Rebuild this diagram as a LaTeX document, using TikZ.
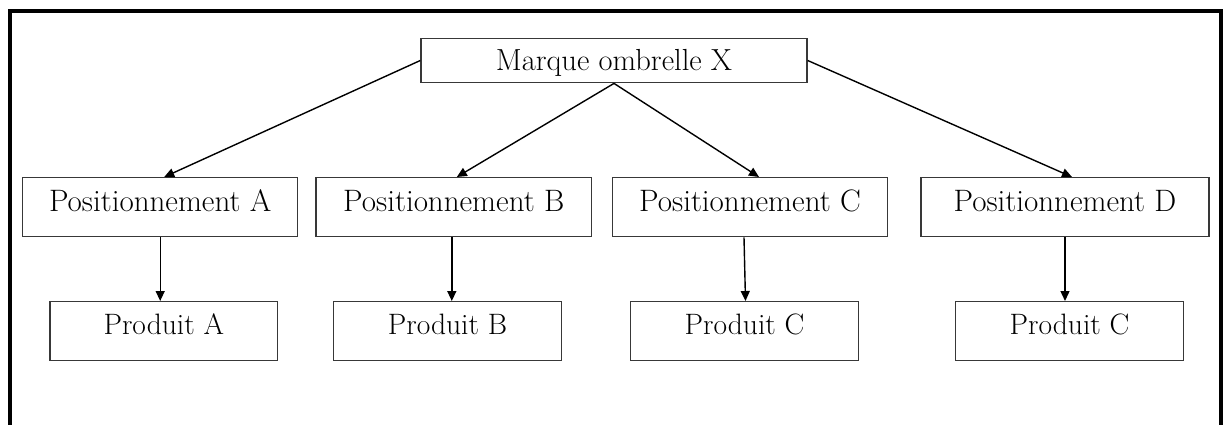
\documentclass[tikz,border=0pt]{standalone}
\usepackage{fontspec}
\usetikzlibrary{arrows.meta,calc}
\begin{document}
\begin{tikzpicture}[x=1pt,y=-1pt,
  box/.style={draw=black!78,line width=1.4pt,inner sep=0pt,minimum height=59pt},
  topbox/.style={box,minimum height=44.4pt,font=\fontsize{30.5}{36}\selectfont,text height=21pt,text depth=0pt},
  posbox/.style={box,font=\fontsize{31}{37}\selectfont,text height=12pt,text depth=3pt},
  prodbox/.style={box,font=\fontsize{29.5}{35}\selectfont,text height=10pt,text depth=3.8pt},
  link/.style={line width=1.4pt,-{Triangle[length=10pt,width=9pt]}},
  frame/.style={line width=4pt}]

\useasboundingbox (0,0) rectangle (1224,425);

% open frame around the chart
\draw[frame] (10,425) -- (10,11) -- (1221.3,11) -- (1221.3,425);

% umbrella brand
\node[topbox,minimum width=386pt] (top) at (614,60.5) {Marque ombrelle X};

% positionings
\node[posbox,minimum width=275pt]   (posA) at (160.2,207.2) {Positionnement A};
\node[posbox,minimum width=275.7pt] (posB) at (453.8,207.2) {Positionnement B};
\node[posbox,minimum width=274.6pt] (posC) at (750,207.2)   {Positionnement C};
\node[posbox,minimum width=288pt]   (posD) at (1065,207.2)  {Positionnement D};

% products
\node[prodbox,minimum width=227.7pt] (prodA) at (163.8,331.2)  {Produit A};
\node[prodbox,minimum width=228.4pt] (prodB) at (447.5,331.2)  {Produit B};
\node[prodbox,minimum width=227.6pt] (prodC) at (744.5,331.2)  {Produit C};
\node[prodbox,minimum width=227.6pt] (prodD) at (1069.5,331.2) {Produit C};

% brand to positionings
\draw[link] (top.west)  -- ($(posA.north)+(4,0)$);
\draw[link] (top.south) -- ($(posB.north)+(3,0)$);
\draw[link] (top.south) -- ($(posC.north)+(9,0)$);
\draw[link] (top.east)  -- ($(posD.north)+(7,0)$);

% positionings to products
\draw[link] (posA.south) -- (posA.south |- prodA.north);
\draw[link] ($(posB.south)+(-2,0)$) -- ($(posB.south |- prodB.north)+(-2,0)$);
\draw[link] ($(posC.south)+(-6,0)$) -- ($(prodC.north)+(1,0)$);
\draw[link] (posD.south) -- (posD.south |- prodD.north);
\end{tikzpicture}
\end{document}
